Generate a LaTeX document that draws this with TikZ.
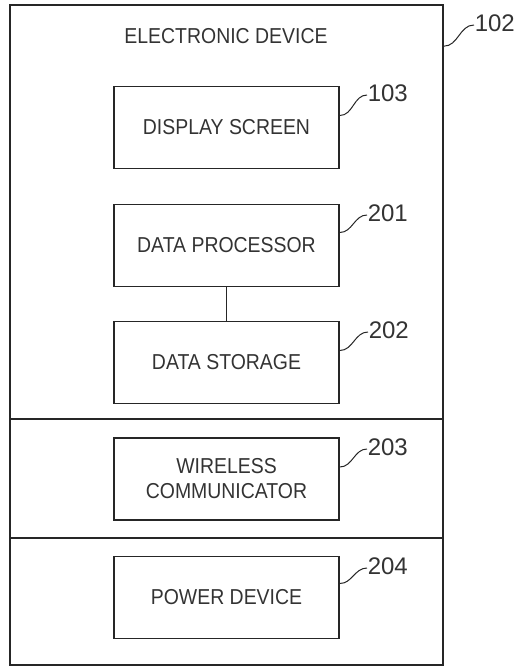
\documentclass[tikz,border=0pt]{standalone}
\usepackage{fontspec}
\setmainfont[FakeStretch=0.9]{Liberation Sans}
\newfontfamily\numfont{Liberation Sans}

\begin{document}
\begin{tikzpicture}[x=1pt,y=-1pt,line width=1.6pt,draw=black!85,text=black!80]

      \useasboundingbox (0,0) rectangle (515,668);

      \begin{scope}[every node/.style={rectangle,draw,minimum width=433pt,inner sep=0pt}]
        \node (102) at (226.5,212)   [minimum height=414pt] {};
        \node (s203) at (226.5,478.5) [minimum height=119pt] {};
        \node (s204) at (226.5,601.5) [minimum height=127pt] {};
      \end{scope}

      \node (title) at (226,36) [font=\fontsize{21.6}{26}\selectfont] {ELECTRONIC DEVICE};

      \begin{scope}[every node/.style={rectangle,draw,minimum width=225pt,minimum height=82pt,
          align=center,font=\fontsize{21.6}{25}\selectfont}]
        \node (103) at (226.5,127.5) {DISPLAY SCREEN};
        \node (201) at (226.5,245.5) {DATA PROCESSOR};
        \node (202) at (226.5,362.5) {DATA STORAGE};
        \node (203) at (226.5,479)   {WIRELESS\\COMMUNICATOR};
        \node (204) at (226.5,597.5) {POWER DEVICE};
      \end{scope}

      \path (201) edge (202);

      \begin{scope}[every node/.style={anchor=west,inner sep=0pt,font=\numfont\fontsize{24}{28}\selectfont}]
        \node (n102) at (474,23)  {102};
        \node (n103) at (367,93)  {103};
        \node (n201) at (367,213) {201};
        \node (n202) at (368,330) {202};
        \node (n203) at (367,447) {203};
        \node (n204) at (367,566) {204};
      \end{scope}

      \begin{scope}[line width=1pt,every edge/.style={draw,out=0,in=180}]
        \path ([yshift=-42pt]102.north east) edge ([yshift=-2pt]n102.west);
        \path ([yshift=12pt]103.east) edge ([yshift=-2pt]n103.west);
        \path ([yshift=13pt]201.east) edge ([yshift=-2pt]n201.west);
        \path ([yshift=12pt]202.east) edge ([yshift=-2pt]n202.west);
        \path ([yshift=12pt]203.east) edge ([yshift=-2pt]n203.west);
        \path ([yshift=14pt]204.east) edge ([yshift=-2pt]n204.west);
      \end{scope}

    \end{tikzpicture}
\end{document}
